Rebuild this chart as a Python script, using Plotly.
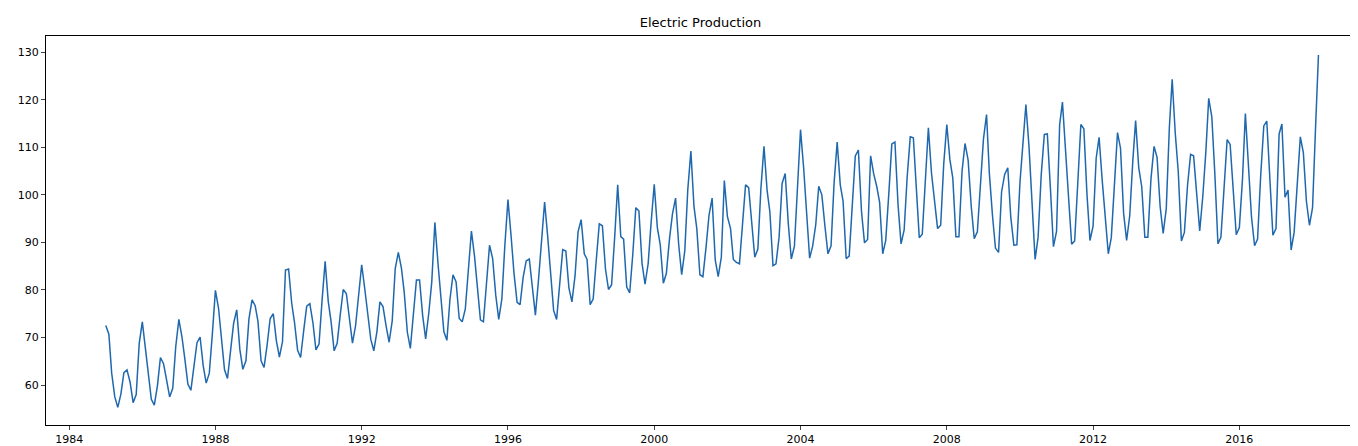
import pandas as pd
import plotly.graph_objects as go

# monthly values, Jan 1985 onward
production = [
    72.5, 70.7, 62.5, 57.5, 55.3, 58.1, 62.6, 63.2, 60.6, 56.3, 58.0, 68.7,
    73.3, 68.0, 62.2, 57.0, 55.8, 59.9, 65.8, 64.5, 61.0, 57.5, 59.3, 68.1,
    73.8, 70.1, 65.6, 60.2, 58.9, 63.9, 68.9, 70.1, 64.1, 60.4, 62.5, 70.6,
    79.9, 76.2, 70.3, 63.2, 61.4, 67.1, 73.0, 75.8, 67.5, 63.3, 65.1, 73.9,
    77.9, 76.7, 73.4, 65.1, 63.7, 68.5, 74.0, 75.0, 69.3, 65.9, 69.1, 84.2,
    84.4, 77.2, 73.2, 67.3, 65.8, 71.5, 76.6, 77.1, 73.1, 67.4, 68.6, 77.7,
    86.0, 77.6, 73.4, 67.2, 68.8, 74.8, 80.1, 79.2, 73.6, 68.8, 72.5, 79.5,
    85.3, 80.2, 74.5, 69.6, 67.2, 71.2, 77.5, 76.5, 72.4, 69.0, 73.5, 84.5,
    87.9, 84.6, 79.5, 71.1, 67.7, 74.3, 82.1, 82.1, 74.6, 69.7, 75.1, 81.7,
    94.2, 85.6, 77.9, 71.2, 69.4, 78.1, 83.2, 81.7, 74.0, 73.3, 76.0, 84.2,
    92.4, 87.1, 80.4, 73.7, 73.3, 82.4, 89.4, 86.6, 78.9, 73.8, 78.1, 89.4,
    99.0, 91.4, 83.6, 77.4, 76.9, 82.7, 86.1, 86.5, 80.0, 74.7, 82.1, 90.4,
    98.5, 91.2, 84.5, 75.7, 73.8, 80.9, 88.5, 88.2, 80.4, 77.5, 83.0, 92.2,
    94.8, 87.6, 86.4, 76.9, 78.1, 86.3, 93.9, 93.5, 84.4, 80.1, 81.1, 90.8,
    102.1, 91.2, 90.7, 80.6, 79.4, 87.6, 97.3, 96.6, 85.6, 81.2, 85.5, 94.2,
    102.2, 93.1, 89.5, 81.4, 83.5, 90.7, 96.0, 99.3, 89.6, 83.2, 88.2, 101.1,
    109.2, 97.5, 92.9, 83.2, 82.8, 88.9, 95.7, 99.3, 86.3, 82.8, 86.9, 103.0,
    95.4, 92.9, 86.4, 85.8, 85.5, 93.9, 102.1, 101.5, 93.1, 86.9, 88.6, 101.2,
    110.2, 101.0, 96.4, 85.1, 85.5, 91.1, 102.4, 104.5, 93.9, 86.5, 89.2, 101.3,
    113.7, 105.7, 95.4, 86.7, 89.2, 93.7, 101.8, 100.0, 93.4, 87.6, 89.3, 102.4,
    111.1, 102.1, 98.7, 86.6, 87.1, 98.5, 108.2, 109.4, 96.5, 89.9, 90.6, 108.2,
    104.4, 101.7, 98.4, 87.6, 90.4, 100.3, 110.7, 111.1, 97.9, 89.7, 92.6, 103.7,
    112.2, 112.0, 101.8, 91.0, 91.7, 103.3, 114.1, 104.6, 98.2, 92.9, 93.6, 106.4,
    114.8, 107.4, 103.5, 91.2, 91.2, 104.9, 110.8, 107.3, 97.6, 90.8, 92.2, 101.7,
    111.7, 116.9, 104.5, 95.7, 88.8, 87.9, 100.6, 104.3, 105.7, 95.3, 89.4, 89.5,
    102.7, 111.2, 119.0, 110.2, 97.7, 86.4, 91.1, 104.2, 112.7, 112.8, 101.3, 89.1,
    92.3, 114.7, 119.5, 108.1, 99.5, 89.6, 90.3, 102.4, 114.8, 113.9, 100.1, 90.4,
    93.4, 107.7, 112.1, 103.1, 96.3, 87.6, 91.0, 102.8, 113.1, 109.8, 96.1, 90.4,
    95.6, 107.2, 115.6, 105.7, 101.7, 91.1, 91.1, 103.3, 110.2, 107.9, 97.5, 91.9,
    97.1, 114.2, 124.3, 112.9, 104.8, 90.3, 92.1, 101.9, 108.5, 108.2, 100.4, 92.4,
    99.7, 109.3, 120.3, 116.4, 104.5, 89.7, 91.1, 102.6, 111.6, 110.6, 101.9, 91.6,
    93.1, 103.2, 117.1, 106.7, 95.4, 89.3, 90.7, 104.0, 114.5, 115.5, 102.8, 91.5,
    92.9, 112.8, 114.9, 99.5, 101.0, 88.4, 92.1, 102.2, 112.2, 108.9, 98.6, 93.6,
    97.3, 114.7, 129.4,
]
dates = pd.date_range("1985-01-01", periods=len(production), freq="MS")
tick_years = list(range(1984, 2020, 4))

fig = go.Figure()
fig.add_trace(go.Scatter(x=dates, y=production, mode="lines",
                         line=dict(color="#1f68ae", width=1.5)))

axis = dict(showgrid=False, zeroline=False, showline=True, linecolor="black",
            linewidth=1, mirror=True, ticks="outside", ticklen=4,
            tickfont=dict(size=11, color="black"), automargin=False)
fig.update_xaxes(**axis, range=["1983-05-15", "2019-03-01"],
                 tickvals=[f"{y}-01-01" for y in tick_years],
                 ticktext=[str(y) for y in tick_years])
fig.update_yaxes(**axis, range=[51.6, 133.4], tickvals=list(range(60, 131, 10)))

fig.update_layout(
    width=1358, height=446, plot_bgcolor="white", paper_bgcolor="white",
    font=dict(family="DejaVu Sans", color="black"),
    title=dict(text="Electric Production", x=0.5, xanchor="center",
               xref="paper", yref="container", y=0.968, yanchor="middle",
               font=dict(size=13)),
    margin=dict(l=38, r=11, t=28, b=29, pad=0, autoexpand=False), showlegend=False,
)
fig.write_html("out.html")
